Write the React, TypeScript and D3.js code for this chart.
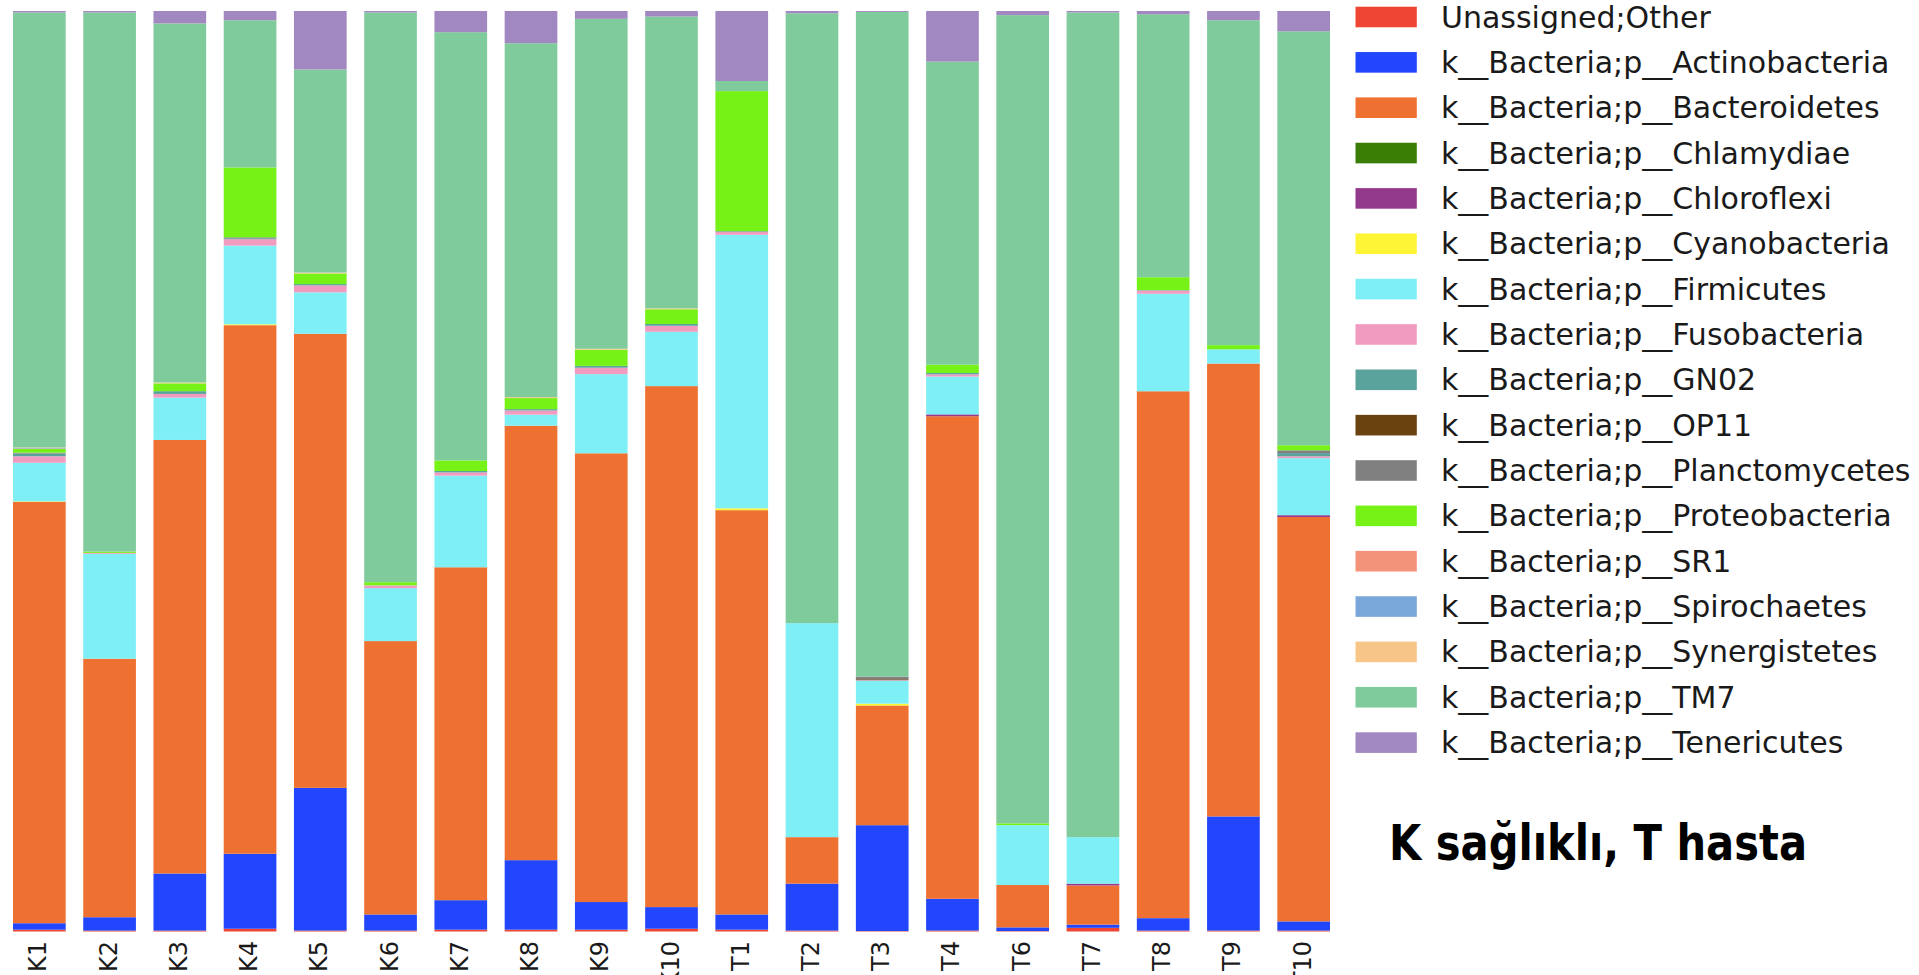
import React from "react";
import * as d3 from "d3";

const samples = ["K1","K2","K3","K4","K5","K6","K7","K8","K9","K10","T1","T2","T3","T4","T6","T7","T8","T9","T10"];

const phyla = [
  "Unassigned;Other",
  "k__Bacteria;p__Actinobacteria",
  "k__Bacteria;p__Bacteroidetes",
  "k__Bacteria;p__Chlamydiae",
  "k__Bacteria;p__Chloroflexi",
  "k__Bacteria;p__Cyanobacteria",
  "k__Bacteria;p__Firmicutes",
  "k__Bacteria;p__Fusobacteria",
  "k__Bacteria;p__GN02",
  "k__Bacteria;p__OP11",
  "k__Bacteria;p__Planctomycetes",
  "k__Bacteria;p__Proteobacteria",
  "k__Bacteria;p__SR1",
  "k__Bacteria;p__Spirochaetes",
  "k__Bacteria;p__Synergistetes",
  "k__Bacteria;p__TM7",
  "k__Bacteria;p__Tenericutes",
];

const phylumColors = [
  "#ee4633", "#2146fb", "#ef7131", "#3b7e06", "#943a8c", "#fef535",
  "#7fEff6", "#f29bc1", "#5aa29c", "#6a4210", "#808080", "#76f216",
  "#f3937a", "#7aa7d9", "#f8c588", "#80cb9c", "#a288c0",
];

// relative abundance (%) per sample, order as in `samples`
const unassigned     = [0.2,0.1,0.1,0.3,0.1,0.1,0.2,0.2,0.2,0.3, 0.2,0.1,0.05,0.1,0.05,0.4,0.1,0.1,0.1];
const actinobacteria = [0.7,1.45,6.2,8.15,15.5,1.75,3.2,7.55,3.0,2.35, 1.65,5.1,11.5,3.45,0.4,0.35,1.35,12.4,1.0];
const bacteroidetes  = [45.8,28.1,47.1,57.45,49.3,29.7,36.15,47.2,48.75,56.6, 43.9,5.05,13.0,52.4,4.6,4.25,57.3,49.2,43.95];
const chlamydiae     = [0,0,0,0,0,0,0,0,0,0, 0,0,0,0,0,0,0,0,0];
const chloroflexi    = [0,0,0,0,0,0,0,0,0,0, 0,0,0,0.2,0,0.2,0,0,0.2];
const cyanobacteria  = [0.05,0,0,0.1,0,0,0,0,0,0, 0.2,0,0.2,0,0,0,0,0,0];
const firmicutes     = [4.2,11.4,4.6,8.55,4.5,5.75,9.95,1.2,8.6,5.9, 29.7,23.25,2.5,4.1,6.5,5.05,10.6,1.55,6.2];
const fusobacteria   = [0.7,0.1,0.4,0.7,0.75,0.3,0.35,0.45,0.7,0.65, 0.3,0,0.05,0.25,0,0,0.35,0,0.2];
const gn02           = [0.3,0,0.3,0.1,0.15,0,0.15,0.15,0.2,0.2, 0.05,0,0,0.15,0,0,0.05,0,0.35];
const op11           = [0,0,0,0,0,0,0,0,0,0, 0,0,0.1,0,0,0,0,0,0];
const planctomycetes = [0.1,0,0,0.1,0,0,0,0,0,0, 0.05,0,0.3,0,0,0,0,0,0.3];
const proteobacteria = [0.4,0.15,0.85,7.6,1.15,0.35,1.15,1.2,1.75,1.6, 15.2,0,0,0.9,0.2,0,1.4,0.45,0.55];
const sr1            = [0.05,0,0,0,0,0,0,0,0,0, 0,0,0,0,0,0,0,0,0];
const spirochaetes   = [0.05,0,0,0,0,0,0,0,0,0, 0,0,0,0,0,0,0,0,0];
const synergistetes  = [0.05,0,0.1,0,0.1,0,0,0.1,0.1,0.1, 0,0,0,0,0,0,0,0,0];
const tm7            = [47.3,58.6,39.0,16.0,22.05,61.9,46.5,38.45,35.85,31.7, 1.1,66.25,72.2,32.9,87.8,89.6,28.6,35.3,45.0];
const tenericutes    = [0.15,0.15,1.35,1.0,6.35,0.15,2.3,3.5,0.85,0.6, 7.6,0.25,0.1,5.5,0.45,0.15,0.35,1.0,2.2];

const seriesValues = [
  unassigned, actinobacteria, bacteroidetes, chlamydiae, chloroflexi, cyanobacteria,
  firmicutes, fusobacteria, gn02, op11, planctomycetes, proteobacteria, sr1,
  spirochaetes, synergistetes, tm7, tenericutes,
];

const titleText = "K sağlıklı, T hasta";

export default function App() {
  React.useEffect(() => {
    document.body.style.margin = "0";
    document.body.style.overflow = "hidden";
  }, []);

  const W = 1919, H = 975;
  const rows = samples.map((s, i) => {
    const r: any = { sample: s };
    phyla.forEach((p, j) => (r[p] = seriesValues[j][i]));
    return r;
  });
  const stacked = d3.stack().keys(phyla).offset(d3.stackOffsetExpand)(rows);

  const x = d3.scaleBand().domain(samples).range([13, 1330]).paddingInner(0.25).paddingOuter(0);
  const y = d3.scaleLinear().domain([0, 1]).range([931.5, 11]);
  const color = d3.scaleOrdinal<string, string>().domain(phyla).range(phylumColors);

  const legendY = d3.scaleLinear().domain([0, phyla.length - 1]).range([17, 17 + 45.35 * (phyla.length - 1)]);

  return (
    <svg width={W} height={H} style={{ position: "absolute", left: 0, top: 0, background: "#fff" }}>
      <g>
        {stacked.map((layer) => (
          <g key={layer.key} fill={color(layer.key)}>
            {layer.map((d, i) => {
              const h = y(d[0]) - y(d[1]);
              if (h <= 0) return null;
              return (
                <rect
                  key={i}
                  x={x(samples[i])}
                  y={y(d[1])}
                  width={x.bandwidth()}
                  height={h}
                />
              );
            })}
          </g>
        ))}
      </g>
      <g fontFamily="DejaVu Sans" fontSize={24} fill="#1a1a1a">
        {samples.map((s) => {
          const cx = (x(s) as number) + x.bandwidth() / 2 - 1;
          return (
            <text
              key={s}
              transform={`translate(${cx},941) rotate(-90)`}
              textAnchor="end"
              dominantBaseline="central"
            >
              {s}
            </text>
          );
        })}
      </g>
      <g fontFamily="DejaVu Sans" fontSize={30} fill="#1a1a1a">
        {phyla.map((p, i) => (
          <g key={p} transform={`translate(0,${legendY(i)})`}>
            <rect x={1355.5} y={-10.3} width={61.3} height={20.6} fill={color(p)} />
            <text x={1441} y={0} dominantBaseline="central">{p}</text>
          </g>
        ))}
      </g>
      <text
        x={1389}
        y={860}
        fontFamily="DejaVu Sans"
        fontWeight="bold"
        fontSize={50}
        textLength={418}
        lengthAdjust="spacingAndGlyphs"
        fill="#000"
      >
        {titleText}
      </text>
    </svg>
  );
}
